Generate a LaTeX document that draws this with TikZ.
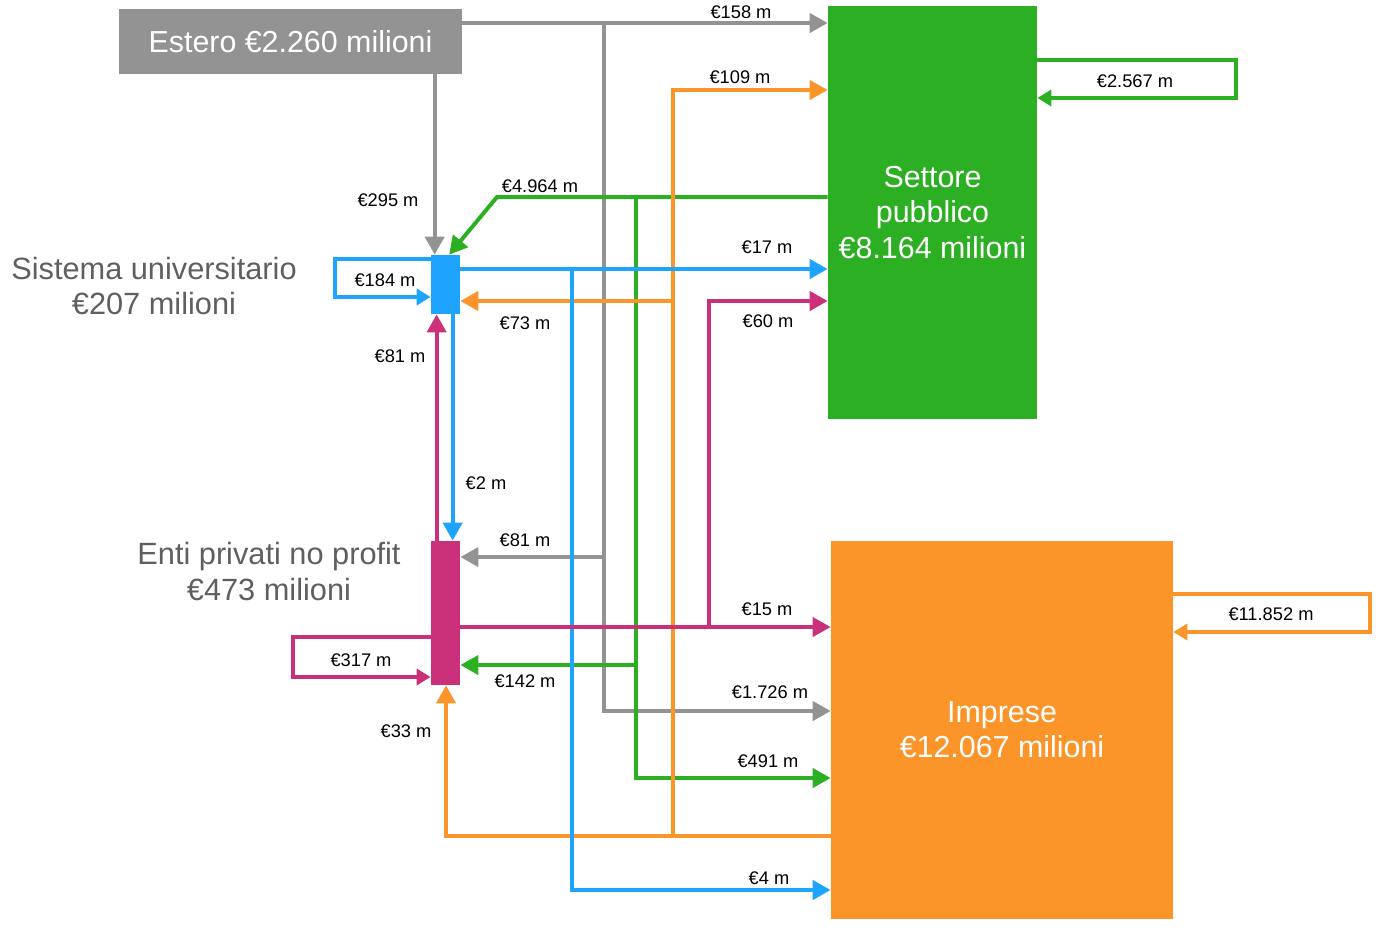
\documentclass[tikz,border=0pt]{standalone}
\usepackage{fontspec}
\setmainfont{Liberation Sans}
\usetikzlibrary{arrows.meta}
\definecolor{grigio}{RGB}{147,147,147}
\definecolor{verde}{RGB}{44,175,35}
\definecolor{blu}{RGB}{30,164,252}
\definecolor{arancio}{RGB}{251,148,41}
\definecolor{magenta}{RGB}{203,49,122}
\definecolor{testo}{RGB}{95,95,95}
\begin{document}
\begin{tikzpicture}[x=0.02cm, y=-0.02cm,
	flow/.style={line width=0.08cm, -{Triangle[length=0.36cm,width=0.38cm]}},
	ciclo/.style={line width=0.09cm, -{Triangle[length=0.28cm,width=0.32cm]}},
	box/.style={inner sep=0pt, text=white, align=center, font=\fontsize{17.3}{20}\selectfont},
	titolo/.style={text=testo, align=center, font=\fontsize{17.5}{20}\selectfont},
	lbl/.style={inner sep=0pt, font=\fontsize{10.4}{12}\selectfont}]
			\useasboundingbox (0,0) rectangle (1398,938);
			\node[box, fill=grigio, minimum width=6.86cm, minimum height=1.3cm] (estero) at (290.5,41.5) {Estero €2.260 milioni};
			\node[box, fill=verde, minimum width=4.18cm, minimum height=8.26cm] (settore) at (932.5,212.5) {Settore\\pubblico\\€8.164 milioni};
			\node[box, fill=arancio, minimum width=6.84cm, minimum height=7.56cm] (imprese) at (1002,730) {Imprese\\€12.067 milioni};
			\node[box, fill=blu, minimum width=0.58cm, minimum height=1.18cm] (uni) at (445.5,284.5) {};
			\node[box, fill=magenta, minimum width=0.58cm, minimum height=2.88cm] (enti) at (445.5,613) {};
			\node[titolo] (tuni) at (154,286) {Sistema universitario\\€207 milioni};
			\node[titolo] (tenti) at (269,571.5) {Enti privati no profit\\€473 milioni};

			\coordinate (gA) at (604,23);
			\coordinate (gB) at (604,557);
			\coordinate (gC) at (604,711);
			\coordinate (vA) at (497,197);
			\coordinate (vB) at (636,197);
			\coordinate (vC) at (636,665);
			\coordinate (vD) at (636,778);
			\coordinate (oA) at (673,90);
			\coordinate (oB) at (673,301);
			\coordinate (oC) at (673,836);
			\coordinate (oD) at (446,836);
			\coordinate (bA) at (572,269);
			\coordinate (bB) at (572,890);
			\coordinate (mA) at (709,627);
			\coordinate (mB) at (709,301);
			\coordinate (sL1) at (1236,60);
			\coordinate (sL2) at (1236,98);
			\coordinate (iL1) at (1370,594);
			\coordinate (iL2) at (1370,632);
			\coordinate (uL1) at (335,259);
			\coordinate (uL2) at (335,297);
			\coordinate (eL1) at (293,637);
			\coordinate (eL2) at (293,677);

			\draw[flow, grigio] (estero.east |- gA) -- (settore.west |- gA);
			\draw[flow, grigio] (gA) -- (gC) -- (imprese.west |- gC);
			\draw[flow, grigio] (gB) -- (enti.east |- gB);
			\draw[flow, grigio] ([xshift=0.08cm]estero.south -| uni.west) -- ([xshift=0.08cm]uni.north west);

			\draw[flow, verde] (settore.west |- vA) -- (vA) -- ([xshift=0.37cm]uni.north west);
			\draw[flow, verde] (vB) -- (vD) -- (imprese.west |- vD);
			\draw[flow, verde] (vC) -- (enti.east |- vC);
			\draw[ciclo, verde] (settore.east |- sL1) -- (sL1) -- (sL2) -- (settore.east |- sL2);

			\draw[flow, arancio] (imprese.west |- oC) -- (oD) -- (oD |- enti.south);
			\draw[flow, arancio] (oC) -- (oA) -- (settore.west |- oA);
			\draw[flow, arancio] (oB) -- (uni.east |- oB);
			\draw[ciclo, arancio] (imprese.east |- iL1) -- (iL1) -- (iL2) -- (imprese.east |- iL2);

			\draw[flow, blu] (uni.east |- bA) -- (settore.west |- bA);
			\draw[flow, blu] (bA) -- (bB) -- (imprese.west |- bB);
			\draw[flow, blu] ([xshift=0.44cm]uni.south west) -- ([xshift=0.44cm]enti.north west);
			\draw[ciclo, blu] (uni.west |- uL1) -- (uL1) -- (uL2) -- (uni.west |- uL2);

			\draw[flow, magenta] ([xshift=0.12cm]enti.north west) -- ([xshift=0.12cm]uni.south west);
			\draw[flow, magenta] (enti.east |- mA) -- (imprese.west |- mA);
			\draw[flow, magenta] (mA) -- (mB) -- (settore.west |- mB);
			\draw[ciclo, magenta] (enti.west |- eL1) -- (eL1) -- (eL2) -- (enti.west |- eL2);

			\node[lbl] (l158) at (741,12) {€158 m};
			\node[lbl] (l109) at (740,77) {€109 m};
			\node[lbl] (l4964) at (540,186) {€4.964 m};
			\node[lbl] (l295) at (388,200) {€295 m};
			\node[lbl] (l17) at (767,247) {€17 m};
			\node[lbl] (l184) at (385,280) {€184 m};
			\node[lbl] (l73) at (525,323) {€73 m};
			\node[lbl] (l60) at (768,321) {€60 m};
			\node[lbl] (l81a) at (400,356) {€81 m};
			\node[lbl] (l2) at (486,483) {€2 m};
			\node[lbl] (l81b) at (525,540) {€81 m};
			\node[lbl] (l15) at (767,609) {€15 m};
			\node[lbl] (l317) at (361,660) {€317 m};
			\node[lbl] (l142) at (525,681) {€142 m};
			\node[lbl] (l1726) at (770,692) {€1.726 m};
			\node[lbl] (l33) at (406,731) {€33 m};
			\node[lbl] (l491) at (768,761) {€491 m};
			\node[lbl] (l4) at (769,878) {€4 m};
			\node[lbl] (l2567) at (1135,81) {€2.567 m};
			\node[lbl] (l11852) at (1271,614) {€11.852 m};
		\end{tikzpicture}
\end{document}
